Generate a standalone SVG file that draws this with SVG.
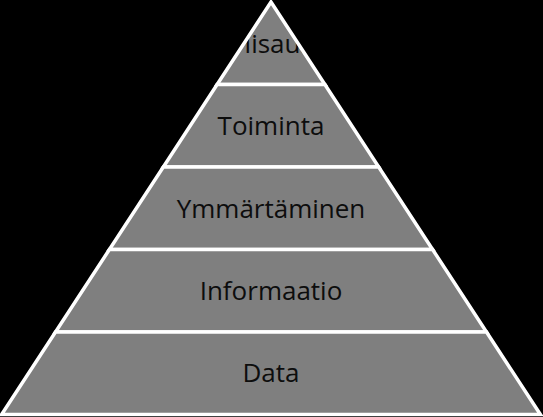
<svg xmlns="http://www.w3.org/2000/svg" width="543" height="417" viewBox="0 0 543 417">
<style>
.fill{fill:#7f7f7f;stroke:none}
.edge{fill:none;stroke:#ffffff;stroke-width:3.5;stroke-linejoin:miter;stroke-miterlimit:10}
.lbl{font-family:"Open Sans","Liberation Sans",sans-serif;font-size:26px;fill:#0d0d0d;text-anchor:middle}
</style>
<defs>
<clipPath id="topclip"><polygon points="271,2 324.9,84.5 217.1,84.5"/></clipPath>
</defs>
<rect width="543" height="417" fill="#000000"/>
<g id="viisaus">
<polygon class="fill" points="271,2 324.9,84.5 217.1,84.5"/>
<text class="lbl" x="271" y="53" clip-path="url(#topclip)">Viisaus</text>
<polygon class="edge" points="271,2 324.9,84.5 217.1,84.5"/>
</g>
<g id="toiminta">
<polygon class="fill" points="217.1,84.5 324.9,84.5 378.7,167 163.3,167"/>
<text class="lbl" x="271" y="135">Toiminta</text>
<polygon class="edge" points="217.1,84.5 324.9,84.5 378.7,167 163.3,167"/>
</g>
<g id="ymmartaminen">
<polygon class="fill" points="163.3,167 378.7,167 432.6,249.5 109.4,249.5"/>
<text class="lbl" x="271" y="218">Ymmärtäminen</text>
<polygon class="edge" points="163.3,167 378.7,167 432.6,249.5 109.4,249.5"/>
</g>
<g id="informaatio">
<polygon class="fill" points="109.4,249.5 432.6,249.5 486.5,332 55.5,332"/>
<text class="lbl" x="271" y="300">Informaatio</text>
<polygon class="edge" points="109.4,249.5 432.6,249.5 486.5,332 55.5,332"/>
</g>
<g id="data">
<polygon class="fill" points="55.5,332 486.5,332 540.4,414.5 1.6,414.5"/>
<text class="lbl" x="271" y="382">Data</text>
<polygon class="edge" points="55.5,332 486.5,332 540.4,414.5 1.6,414.5"/>
</g>
<g id="connectors"></g>
</svg>
